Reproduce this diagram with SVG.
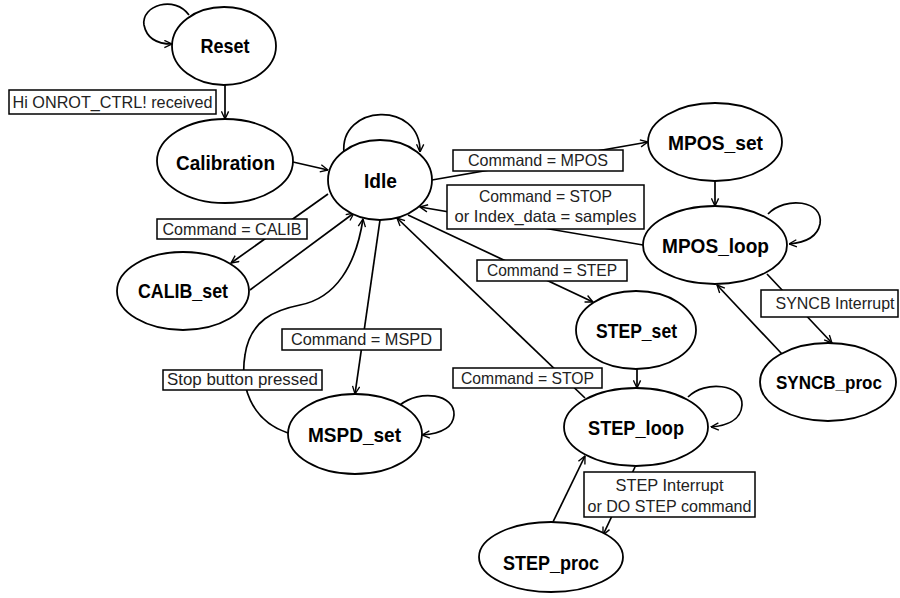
<svg xmlns="http://www.w3.org/2000/svg" width="900" height="598" viewBox="0 0 900 598">
<style>
.n ellipse{fill:#fff;stroke:#000;stroke-width:1.8}
.n text{font-family:"Liberation Sans",Arial,sans-serif;font-weight:bold;font-size:20.5px;text-anchor:middle;fill:#000}
.c path{fill:none;stroke:#000;stroke-width:1.7;marker-end:url(#a)}
.l rect{fill:#fff;stroke:#000;stroke-width:1.5}
.l text{font-family:"Liberation Sans",Arial,sans-serif;font-size:16.5px;text-anchor:middle;fill:#222}
</style>
<defs>
<marker id="a" viewBox="0 0 10 10" refX="9.5" refY="5" markerWidth="9" markerHeight="9" markerUnits="userSpaceOnUse" orient="auto">
<path d="M1,1 L9.5,5 L1,9" fill="none" stroke="#000" stroke-width="1.5"/>
</marker>
</defs>
<rect width="900" height="598" fill="#fff"/>
<g id="connectors" class="c">
<path d="M189,15 C175,-5 141,5 144,25 C147,40 160,44 172,44"/>
<path d="M225,85 L225,119"/>
<path d="M293,162 L328,170"/>
<path d="M344,153 C339,104 421,100 420,152"/>
<path d="M432,180 L648,142"/>
<path d="M715,181 L715,206"/>
<path d="M768,214 C785,196 824,200 820,224 C817,239 801,243 789,244"/>
<path d="M643,245 L420,207"/>
<path d="M328,194 L231,263"/>
<path d="M250,290 L354,213"/>
<path d="M288,433 C250,420 240,385 245,355 C250,320 275,310 300,305 C336,298 356,265 363,219"/>
<path d="M380,220 L355,394"/>
<path d="M400,405 C420,389 455,394 454,415 C453,430 436,434 422,435"/>
<path d="M408,215 L593,302"/>
<path d="M637,369 L637,388"/>
<path d="M688,397 C705,380 743,384 742,405 C741,421 725,426 711,427"/>
<path d="M585,398 L397,218"/>
<path d="M552,524 L585,456"/>
<path d="M635,467 L603,535"/>
<path d="M767,274 L832,343"/>
<path d="M782,354 L717,285"/>
</g>
<g id="labels" class="l">
<g id="lbl-hi"><rect x="9" y="90" width="207" height="24"/><text x="112.5" y="108" textLength="200" lengthAdjust="spacingAndGlyphs">Hi ONROT_CTRL! received</text></g>
<g id="lbl-mpos"><rect x="453" y="150" width="170" height="21"/><text x="538" y="166" textLength="140" lengthAdjust="spacingAndGlyphs">Command = MPOS</text></g>
<g id="lbl-stop1"><rect x="447" y="185" width="197" height="44"/><text x="545.5" y="202" textLength="133" lengthAdjust="spacingAndGlyphs">Command = STOP</text><text x="545.5" y="222" textLength="182" lengthAdjust="spacingAndGlyphs">or Index_data = samples</text></g>
<g id="lbl-calib"><rect x="157" y="219" width="150" height="20"/><text x="232" y="235" textLength="139" lengthAdjust="spacingAndGlyphs">Command = CALIB</text></g>
<g id="lbl-stopbtn"><rect x="163" y="370" width="159" height="20"/><text x="242.5" y="385" textLength="151" lengthAdjust="spacingAndGlyphs">Stop button pressed</text></g>
<g id="lbl-mspd"><rect x="282" y="329" width="159" height="21"/><text x="361.5" y="345" textLength="141" lengthAdjust="spacingAndGlyphs">Command = MSPD</text></g>
<g id="lbl-step"><rect x="477" y="260" width="150" height="21"/><text x="552" y="276" textLength="130" lengthAdjust="spacingAndGlyphs">Command = STEP</text></g>
<g id="lbl-stop2"><rect x="453" y="368" width="149" height="20"/><text x="527.5" y="384" textLength="133" lengthAdjust="spacingAndGlyphs">Command = STOP</text></g>
<g id="lbl-stepint"><rect x="584" y="472" width="171" height="45"/><text x="669.5" y="491" textLength="108" lengthAdjust="spacingAndGlyphs">STEP Interrupt</text><text x="669.5" y="512" textLength="164" lengthAdjust="spacingAndGlyphs">or DO STEP command</text></g>
<g id="lbl-syncb"><rect x="761" y="290" width="137" height="27"/><text x="835" y="309" textLength="119" lengthAdjust="spacingAndGlyphs">SYNCB Interrupt</text></g>
</g>
<g id="reset" class="n"><ellipse cx="224" cy="46" rx="52" ry="39"/><text x="225" y="53" textLength="49" lengthAdjust="spacingAndGlyphs">Reset</text></g>
<g id="calibration" class="n"><ellipse cx="225" cy="161" rx="68" ry="42"/><text x="225.5" y="170" textLength="99" lengthAdjust="spacingAndGlyphs">Calibration</text></g>
<g id="idle" class="n"><ellipse cx="380" cy="180" rx="52" ry="40"/><text x="380.5" y="188" textLength="33" lengthAdjust="spacingAndGlyphs">Idle</text></g>
<g id="mpos_set" class="n"><ellipse cx="715" cy="142" rx="67" ry="39"/><text x="715.5" y="150" textLength="95" lengthAdjust="spacingAndGlyphs">MPOS_set</text></g>
<g id="mpos_loop" class="n"><ellipse cx="715" cy="245" rx="72" ry="39"/><text x="715.5" y="253" textLength="107" lengthAdjust="spacingAndGlyphs">MPOS_loop</text></g>
<g id="calib_set" class="n"><ellipse cx="183" cy="291" rx="66" ry="39"/><text x="183" y="298" textLength="90" lengthAdjust="spacingAndGlyphs">CALIB_set</text></g>
<g id="mspd_set" class="n"><ellipse cx="355" cy="434" rx="67" ry="40"/><text x="354.5" y="442" textLength="93" lengthAdjust="spacingAndGlyphs">MSPD_set</text></g>
<g id="step_set" class="n"><ellipse cx="636" cy="330" rx="60" ry="39"/><text x="636.5" y="338" textLength="81" lengthAdjust="spacingAndGlyphs">STEP_set</text></g>
<g id="step_loop" class="n"><ellipse cx="636" cy="427" rx="72" ry="39"/><text x="636" y="435" textLength="96" lengthAdjust="spacingAndGlyphs">STEP_loop</text></g>
<g id="step_proc" class="n"><ellipse cx="551" cy="557" rx="72" ry="35"/><text x="551" y="570" textLength="96" lengthAdjust="spacingAndGlyphs">STEP_proc</text></g>
<g id="syncb_proc" class="n"><ellipse cx="828" cy="382" rx="68" ry="39"/><text x="829" y="389" style="font-size:19px" textLength="106" lengthAdjust="spacingAndGlyphs">SYNCB_proc</text></g>
</svg>
